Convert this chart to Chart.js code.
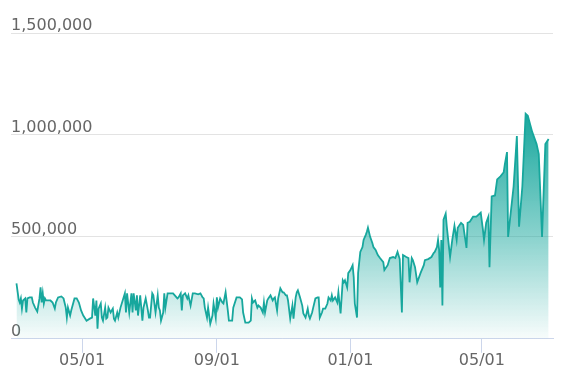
<!DOCTYPE html>
<html>
<head>
<meta charset="utf-8">
<script src="https://cdn.jsdelivr.net/npm/chart.js@4/dist/chart.umd.min.js"></script>
<style>
  html, body { margin: 0; padding: 0; background: #fff; }
  #wrap { width: 565px; height: 382px; position: relative; }
</style>
</head>
<body>
<div id="wrap"><canvas id="chart"></canvas></div>
<script>
// day offsets counted from 2022-03-01
var days = [
  1, 3, 4, 5, 6, 7, 9, 10, 11, 13, 15, 16, 18, 20, 22, 23, 24, 25, 26, 27,
  28, 32, 34, 36, 37, 39, 42, 44, 46, 47, 48, 50, 51, 54, 56, 58, 60, 62, 65, 68,
  70, 71, 73, 74, 75, 76, 78, 79, 80, 82, 83, 84, 85, 87, 89, 90, 91, 93, 94, 96,
  98, 100, 101, 102, 104, 106, 107, 108, 110, 111, 112, 114, 116, 117, 119, 121, 122, 123, 125, 126,
  128, 130, 131, 132, 133, 135, 136, 137, 139, 140, 144, 148, 149, 151, 152, 153, 155, 157, 158, 160,
  162, 164, 167, 169, 171, 172, 173, 175, 176, 178, 180, 181, 183, 184, 185, 187, 189, 190, 192, 194,
  195, 198, 199, 202, 205, 207, 208, 210, 213, 215, 216, 217, 219, 221, 222, 224, 226, 227, 228, 230,
  231, 233, 235, 236, 237, 239, 240, 242, 244, 245, 247, 248, 249, 251, 253, 254, 256, 257, 258, 260,
  262, 263, 265, 267, 268, 269, 271, 272, 274, 276, 277, 278, 280, 281, 283, 285, 286, 288, 289, 290,
  292, 294, 295, 297, 299, 300, 301, 303, 304, 306, 308, 309, 310, 312, 313, 315, 317, 318, 320, 321,
  322, 324, 326, 327, 329, 331, 333, 336, 337, 340, 342, 345, 347, 349, 351, 353, 354, 357, 359, 360,
  362, 363, 365, 367, 370, 373, 374, 377, 380, 382, 383, 385, 386, 387, 388, 389, 390, 391, 393, 394,
  397, 399, 401, 403, 404, 407, 409, 410, 412, 413, 415, 418, 421, 423, 425, 427, 428, 430, 432, 433,
  435, 438, 440, 443, 446, 447, 449, 450, 455, 458, 460, 463, 466, 468, 472, 476, 478, 481, 484, 487
];
var values = [
  272000, 193000, 178000, 198000, 148000, 188000, 198000, 129000, 198000, 203000, 203000, 178000, 153000, 134000, 198000, 252000, 178000, 223000, 173000, 198000,
  188000, 188000, 178000, 148000, 178000, 203000, 208000, 198000, 153000, 104000, 153000, 114000, 139000, 198000, 198000, 178000, 139000, 114000, 89000, 99000,
  104000, 198000, 114000, 188000, 50000, 148000, 173000, 104000, 89000, 153000, 99000, 104000, 153000, 129000, 148000, 99000, 89000, 129000, 104000, 153000,
  188000, 223000, 129000, 223000, 129000, 223000, 129000, 223000, 139000, 213000, 114000, 213000, 89000, 153000, 198000, 139000, 104000, 104000, 223000, 213000,
  129000, 213000, 153000, 139000, 89000, 129000, 223000, 153000, 223000, 223000, 223000, 198000, 203000, 223000, 139000, 213000, 223000, 198000, 213000, 163000,
  223000, 223000, 218000, 223000, 203000, 198000, 153000, 104000, 153000, 74000, 114000, 173000, 104000, 203000, 153000, 198000, 178000, 173000, 228000, 139000,
  89000, 89000, 153000, 203000, 203000, 193000, 129000, 79000, 79000, 89000, 198000, 178000, 188000, 153000, 163000, 153000, 129000, 178000, 129000, 188000,
  198000, 213000, 188000, 198000, 203000, 139000, 198000, 248000, 228000, 228000, 213000, 213000, 188000, 99000, 163000, 99000, 203000, 228000, 238000, 203000,
  163000, 124000, 104000, 148000, 114000, 99000, 129000, 153000, 198000, 203000, 203000, 104000, 129000, 148000, 148000, 173000, 203000, 188000, 213000, 188000,
  203000, 178000, 228000, 124000, 287000, 277000, 287000, 252000, 322000, 337000, 361000, 302000, 173000, 104000, 322000, 426000, 450000, 485000, 510000, 525000,
  545000, 500000, 470000, 450000, 436000, 411000, 396000, 376000, 337000, 361000, 396000, 401000, 396000, 426000, 391000, 129000, 411000, 401000, 396000, 277000,
  396000, 386000, 351000, 277000, 322000, 361000, 386000, 391000, 401000, 421000, 426000, 450000, 485000, 436000, 252000, 485000, 163000, 584000, 614000, 550000,
  401000, 485000, 554000, 485000, 545000, 569000, 559000, 520000, 446000, 569000, 574000, 599000, 599000, 609000, 619000, 535000, 485000, 569000, 599000, 351000,
  698000, 703000, 782000, 797000, 817000, 856000, 916000, 500000, 747000, 995000, 550000, 747000, 1104000, 1094000, 1015000, 955000, 906000, 500000, 955000, 980000
];
var tickDays = [61, 184, 306, 426];
var tickLabels = ["05/01", "09/01", "01/01", "05/01"];

var points = days.map(function(d, i) { return { x: d, y: values[i] }; });

var teal = "rgb(23, 167, 157)";

function areaFill(context) {
    var chart = context.chart;
    var area = chart.chartArea;
    if (!area) return "rgba(23, 167, 157, 0.3)";
    var g = chart.ctx.createLinearGradient(0, area.top + 80, 0, area.bottom);
    g.addColorStop(0, "rgba(23, 167, 157, 1)");
    g.addColorStop(0.55, "rgba(23, 167, 157, 0.5)");
    g.addColorStop(1, "rgba(23, 167, 157, 0.03)");
    return g;
}

var ctx = document.getElementById("chart").getContext("2d");
new Chart(ctx, {
    type: "line",
    data: {
        datasets: [{
            data: points,
            borderColor: teal,
            borderWidth: 1.8,
            backgroundColor: areaFill,
            fill: "origin",
            pointRadius: 0,
            tension: 0
        }]
    },
    options: {
        responsive: true,
        maintainAspectRatio: false,
        animation: false,
        layout: { padding: { left: 11, right: 12, top: 33, bottom: 14 } },
        plugins: { legend: { display: false }, tooltip: { enabled: false } },
        scales: {
            x: {
                type: "linear",
                min: -4,
                max: 491,
                afterBuildTicks: function(scale) {
                    scale.ticks = tickDays.map(function(v) { return { value: v }; });
                },
                ticks: {
                    autoSkip: false,
                    maxRotation: 0,
                    padding: -2,
                    color: "#666666",
                    font: { family: "'DejaVu Sans', Verdana, sans-serif", size: 16 },
                    callback: function(value, index) { return tickLabels[index]; }
                },
                grid: {
                    drawOnChartArea: false,
                    drawTicks: true,
                    tickLength: 14,
                    color: "#ccd6eb"
                },
                border: { display: true, color: "#ccd6eb", width: 1 }
            },
            y: {
                min: 0,
                max: 1500000,
                ticks: {
                    stepSize: 500000,
                    mirror: true,
                    padding: 0,
                    labelOffset: -7,
                    color: "#666666",
                    font: { family: "'DejaVu Sans', Verdana, sans-serif", size: 16 },
                    callback: function(v) { return v.toLocaleString("en-US"); }
                },
                grid: { color: "#e3e3e3", drawTicks: false, tickLength: 0 },
                border: { display: false }
            }
        }
    }
});
</script>
</body>
</html>
